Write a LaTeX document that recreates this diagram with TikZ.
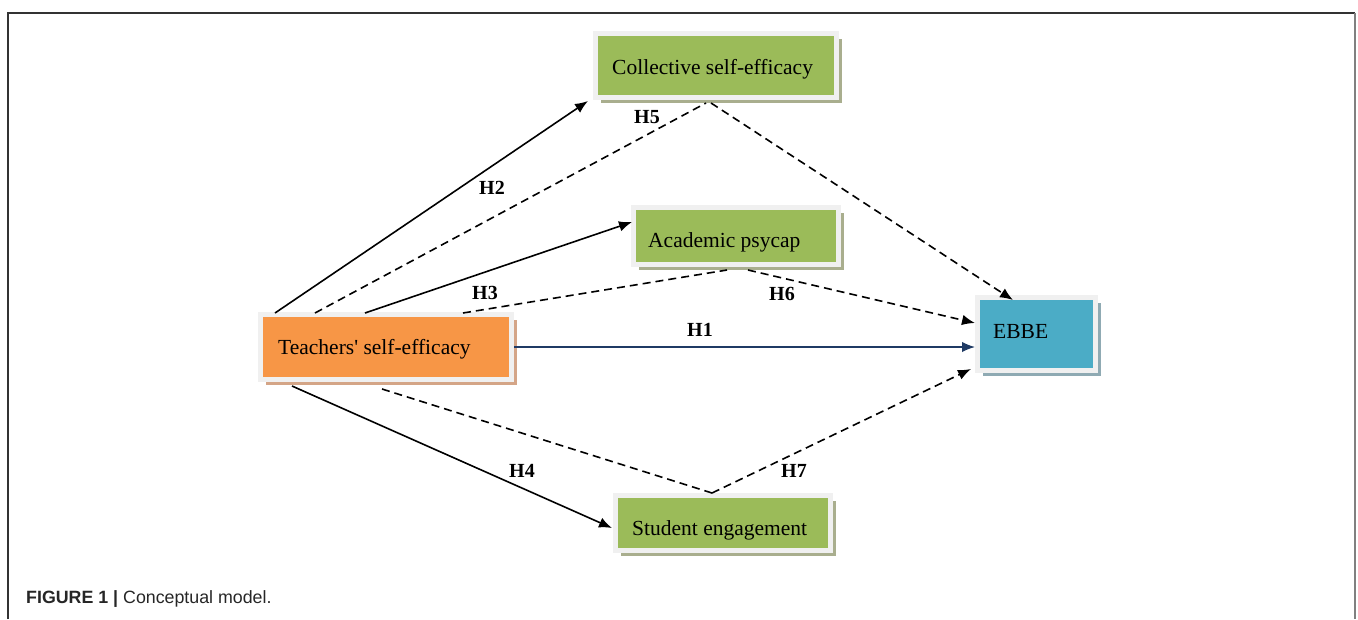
\documentclass[tikz,border=0pt]{standalone}
\usepackage{fontspec}
\setmainfont{Liberation Serif}[Ligatures=TeXOff]
\newfontfamily\capfont{Liberation Sans}
\usetikzlibrary{calc,arrows.meta,shadows}
\definecolor{boxgreen}{HTML}{9BBB59}
\definecolor{boxorange}{HTML}{F79646}
\definecolor{boxblue}{HTML}{4BACC6}
\definecolor{rimgray}{HTML}{F0F0F0}
\definecolor{shgreen}{HTML}{A9AE8E}
\definecolor{shorange}{HTML}{D4A587}
\definecolor{shblue}{HTML}{8FAAB3}
\definecolor{navyline}{HTML}{1F3A64}
\begin{document}
\begin{tikzpicture}[x=1pt,y=-1pt,
  box/.style={rectangle, draw=rimgray, line width=5pt, inner sep=0pt},
  shad/.style={drop shadow={shadow xshift=5.5pt, shadow yshift=-5.5pt, fill=#1, opacity=1}},
  boxtext/.style={anchor=base west, inner sep=0pt, font=\fontsize{21.5}{24}\selectfont},
  hlab/.style={inner sep=0pt, font=\bfseries\fontsize{20}{22}\selectfont},
  link/.style={line width=1.6pt, black},
  dlink/.style={line width=1.6pt, black, dash pattern=on 8pt off 5pt},
  tip/.style={-{Latex[length=13pt,width=10.5pt]}},
  frameline/.style={line width=1.5pt}
]
\useasboundingbox (0,0) rectangle (1358,619);
% frame
\draw[frameline, black!80] (8,619) -- (8,13) -- (1355,13);
\draw[frameline, black!50] (1355,13) -- (1355,619);

% boxes
\node[box, fill=boxgreen, shad=shgreen, minimum width=241pt, minimum height=64pt] (cse) at (716,65.5) {};
\node[box, fill=boxorange, shad=shorange, minimum width=251pt, minimum height=65pt] (tse) at (386,347) {};
\node[box, fill=boxgreen, shad=shgreen, minimum width=205pt, minimum height=57pt] (acad) at (736,236) {};
\node[box, fill=boxgreen, shad=shgreen, minimum width=215pt, minimum height=55pt] (stud) at (723,523) {};
\node[box, fill=boxblue, shad=shblue, minimum width=118pt, minimum height=73pt] (ebbe) at (1036.5,334) {};

% box texts
\node[boxtext] (cse-t) at (612,74) {Collective self-efficacy};
\node[boxtext] (tse-t) at (278,354) {Teachers' self-efficacy};
\node[boxtext] (acad-t) at (648,247) {Academic psycap};
\node[boxtext] (stud-t) at (632,535) {Student engagement};
\node[boxtext] (ebbe-t) at (993,338) {EBBE};

% junction coordinates
\coordinate (j5) at ($(cse.south)+(-10,3)$);
\coordinate (j5b) at ($(cse.south)+(-5,3)$);
\coordinate (j6a) at ($(acad.south)+(-9,3)$);
\coordinate (j6b) at ($(acad.south)+(12,3)$);
\coordinate (j7) at ($(stud.north)+(-11,0)$);

% solid paths
\draw[line width=1.5pt, navyline, tip] (tse.east) -- (tse.east -| ebbe.west);
\draw[link, tip] ($(tse.north west)+(17,1)$) -- ($(cse.south west)+(-5,1)$);
\draw[link, tip] ($(tse.north west)+(107,1)$) -- ($(acad.west)+(1,-14)$);
\draw[link, tip] ($(tse.south west)+(34,4)$) -- ($(stud.west)+(-1,5)$);

% dashed mediation paths
\draw[dlink] ($(tse.north west)+(57,1)$) -- (j5);
\draw[dlink, tip] (j5b) -- ($(ebbe.north west)+(38,5)$);
\draw[dlink] ($(tse.north west)+(205,1)$) -- (j6a);
\draw[dlink, tip] (j6b) -- ($(ebbe.north west)+(0,28)$);
\draw[dlink] ($(tse.south west)+(124,7)$) -- (j7);
\draw[dlink, tip] (j7) -- ($(ebbe.south west)+(-4,-4)$);

% hypothesis labels
\node[hlab] (h1) at (700,330) {H1};
\node[hlab] (h2) at (492,188) {H2};
\node[hlab] (h3) at (485,293) {H3};
\node[hlab] (h4) at (522,471) {H4};
\node[hlab] (h5) at (647,117) {H5};
\node[hlab] (h6) at (782,294) {H6};
\node[hlab] (h7) at (794,471) {H7};

% caption
\node[anchor=base west, inner sep=0pt, text=black!85, font=\capfont\fontsize{17.8}{20}\selectfont] (cap) at (26,603) {\textbf{FIGURE 1 |} Conceptual model.};
\end{tikzpicture}
\end{document}
